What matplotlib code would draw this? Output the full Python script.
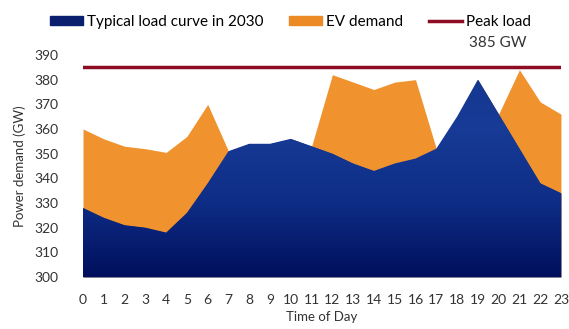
import numpy as np
import matplotlib.pyplot as plt
from matplotlib.colors import LinearSegmentedColormap
from matplotlib.patches import Patch
from matplotlib.lines import Line2D

plt.rcParams['font.family'] = 'Lato'

hours = list(range(24))
base_load = [328, 324, 321, 320, 318, 326, 338, 351, 354, 354, 356, 353,
             350, 346, 343, 346, 348, 352, 365, 380, 366, 352, 338, 334]
with_ev = [360, 356, 353, 352, 350.5, 357, 370, 351, 354, 354, 356, 353,
           382, 379, 376, 379, 380, 352, 365, 380, 366, 384, 371, 366]
peak_load = 385

fig = plt.figure(figsize=(5.69, 3.29), dpi=100)
ax = fig.add_axes([0.1459, 0.1581, 0.840, 0.6748])

# total demand in orange behind, base load in blue on top
ax.fill_between(hours, 300, with_ev, color='#f0922e', lw=0, zorder=1)
blue = ax.fill_between(hours, 300, base_load, color='#123590', lw=0, zorder=2)

# vertical shading on the base load area
cmap = LinearSegmentedColormap.from_list('navy', ['#000f5c', '#0e2d86', '#173b96', '#14368f'])
grad = np.linspace(0, 1, 256).reshape(-1, 1)
img = ax.imshow(grad, extent=[0, 23, 300, 390], origin='lower', aspect='auto',
                cmap=cmap, zorder=3)
img.set_clip_path(blue.get_paths()[0], transform=ax.transData)

ax.axhline(peak_load, color='#8e0c22', lw=2.5, zorder=4)

ax.set_xlim(0, 23)
ax.set_ylim(300, 390)
ax.set_xticks(hours)
ax.set_yticks(range(300, 391, 10))
ax.tick_params(axis='x', length=0, labelsize=10, colors='#333333', pad=12)
ax.tick_params(axis='y', length=0, labelsize=10, colors='#333333', pad=18)
for s in ax.spines.values():
    s.set_visible(False)
ax.set_xlabel('Time of Day', fontsize=9.5, color='#333333', labelpad=4)
ax.set_ylabel('Power demand (GW)', fontsize=9.5, color='#333333', labelpad=6)

handles = [Patch(color='#0a1f6e'), Patch(color='#ec8a26'),
           Line2D([], [], color='#8e0c22', lw=2.5)]
labels = ['Typical load curve in 2030', 'EV demand', 'Peak load']
fig.legend(handles, labels, loc='center left', bbox_to_anchor=(50 / 569, 1 - 22 / 329),
           ncol=3, frameon=False, fontsize=11, handlelength=2.15, handleheight=0.6,
           handletextpad=0.25, columnspacing=1.7, borderpad=0, borderaxespad=0)
fig.text(469 / 569, 1 - 43 / 329, '385 GW', fontsize=11, color='#333333',
         ha='left', va='center')

fig.savefig('out.png')
